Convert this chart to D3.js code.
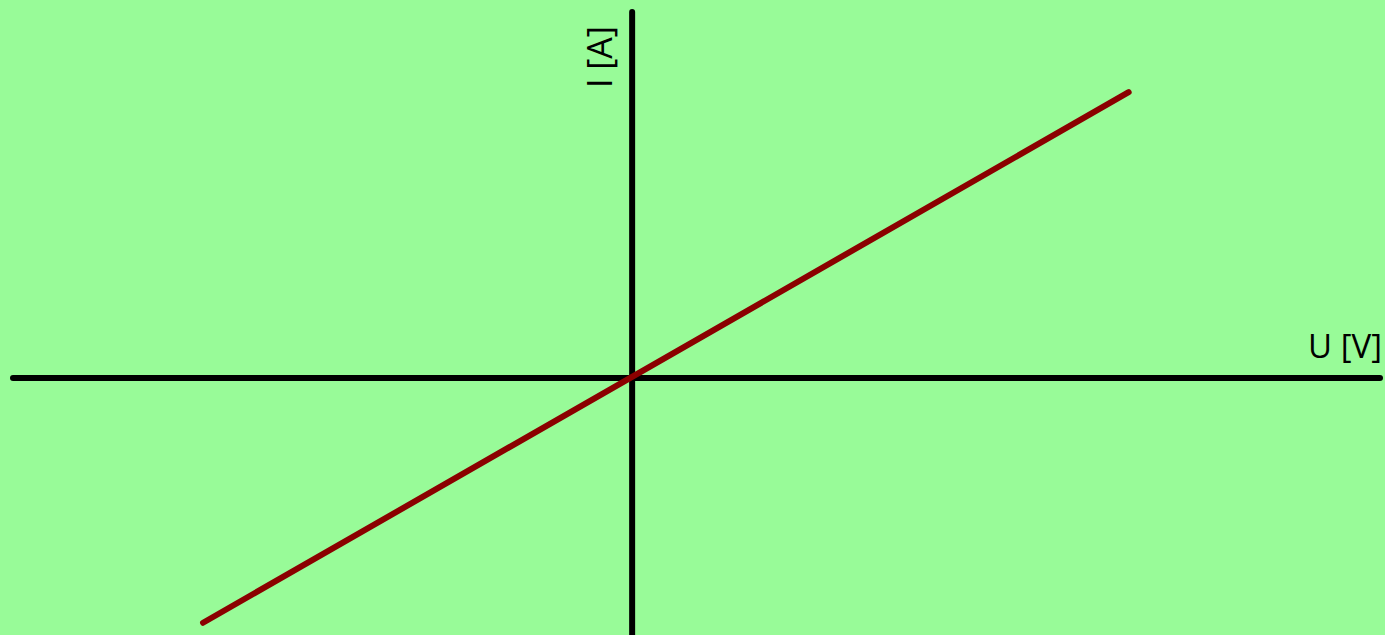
<!DOCTYPE html>
<html>
<head>
<meta charset="utf-8">
<script src="https://cdn.jsdelivr.net/npm/d3@7"></script>
<style>
    html, body { margin: 0; padding: 0; background: #98fb98; }
    svg { display: block; }
</style>
</head>
<body>
<svg id="chart"></svg>
<script>
// U-I characteristic of an ohmic resistor
var voltage = [-7, 8.1];     // U [V]
var current = [-4, 4.67];    // I [A]
var xLabel = 'U [V]';
var yLabel = 'I [A]';

var width = 1385;
var height = 635;

var svg = d3.select('#chart')
    .attr('width', width)
    .attr('height', height);

svg.append('rect')
    .attr('width', width)
    .attr('height', height)
    .attr('fill', '#98fb98');

var x = d3.scaleLinear()
    .domain([-10.1, 12.2])
    .range([13, 1380]);

var y = d3.scaleLinear()
    .domain([-4.2, 5.98])
    .range([635, 12]);

// axes
svg.append('line')
    .attr('x1', x(-10.1))
    .attr('x2', x(12.2))
    .attr('y1', y(0))
    .attr('y2', y(0))
    .attr('stroke', '#000')
    .attr('stroke-width', 6)
    .attr('stroke-linecap', 'round');

svg.append('line')
    .attr('x1', x(0))
    .attr('x2', x(0))
    .attr('y1', y(5.98))
    .attr('y2', height + 10)
    .attr('stroke', '#000')
    .attr('stroke-width', 6)
    .attr('stroke-linecap', 'round');

// characteristic line
var points = voltage.map(function (u, i) {
    return [u, current[i]];
});

svg.append('path')
    .datum(points)
    .attr('d', d3.line()
        .x(function (d) { return x(d[0]); })
        .y(function (d) { return y(d[1]); }))
    .attr('fill', 'none')
    .attr('stroke', '#8b0000')
    .attr('stroke-width', 6)
    .attr('stroke-linecap', 'round');

// labels
svg.append('text')
    .text(xLabel)
    .attr('x', 1382)
    .attr('y', 358)
    .attr('text-anchor', 'end')
    .attr('font-family', 'Open Sans, sans-serif')
    .attr('font-size', 33)
    .attr('fill', '#000');

svg.append('text')
    .text(yLabel)
    .attr('transform', 'translate(612,26) rotate(-90)')
    .attr('text-anchor', 'end')
    .attr('font-family', 'Open Sans, sans-serif')
    .attr('font-size', 34)
    .attr('fill', '#000');
</script>
</body>
</html>
